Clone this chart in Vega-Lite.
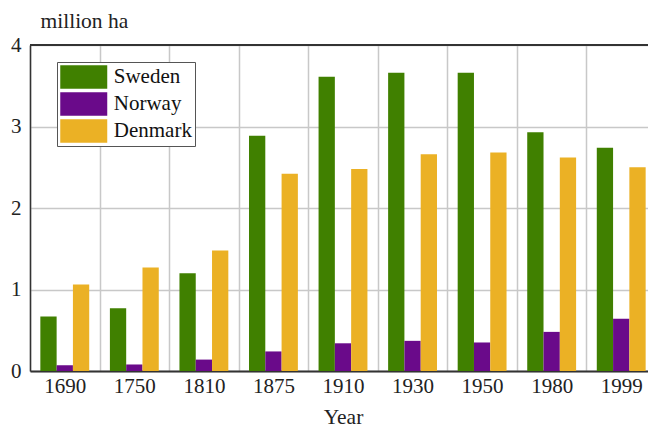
{
  "$schema": "https://vega.github.io/schema/vega-lite/v6.json",
  "width": 618,
  "height": 326,
  "autosize": {"type": "none"},
  "padding": {"left": 30, "top": 45, "right": 0, "bottom": 57},
  "background": "white",
  "config": {"font": "Liberation Serif", "view": {"stroke": null}},
  "data": {
    "values": [
      {"Year": "1690", "Country": "Sweden", "Value": 0.67},
      {"Year": "1690", "Country": "Norway", "Value": 0.07},
      {"Year": "1690", "Country": "Denmark", "Value": 1.06},
      {"Year": "1750", "Country": "Sweden", "Value": 0.77},
      {"Year": "1750", "Country": "Norway", "Value": 0.08},
      {"Year": "1750", "Country": "Denmark", "Value": 1.27},
      {"Year": "1810", "Country": "Sweden", "Value": 1.2},
      {"Year": "1810", "Country": "Norway", "Value": 0.14},
      {"Year": "1810", "Country": "Denmark", "Value": 1.48},
      {"Year": "1875", "Country": "Sweden", "Value": 2.885},
      {"Year": "1875", "Country": "Norway", "Value": 0.24},
      {"Year": "1875", "Country": "Denmark", "Value": 2.42},
      {"Year": "1910", "Country": "Sweden", "Value": 3.61},
      {"Year": "1910", "Country": "Norway", "Value": 0.34},
      {"Year": "1910", "Country": "Denmark", "Value": 2.48},
      {"Year": "1930", "Country": "Sweden", "Value": 3.66},
      {"Year": "1930", "Country": "Norway", "Value": 0.37},
      {"Year": "1930", "Country": "Denmark", "Value": 2.66},
      {"Year": "1950", "Country": "Sweden", "Value": 3.66},
      {"Year": "1950", "Country": "Norway", "Value": 0.35},
      {"Year": "1950", "Country": "Denmark", "Value": 2.68},
      {"Year": "1980", "Country": "Sweden", "Value": 2.93},
      {"Year": "1980", "Country": "Norway", "Value": 0.48},
      {"Year": "1980", "Country": "Denmark", "Value": 2.62},
      {"Year": "1999", "Country": "Sweden", "Value": 2.74},
      {"Year": "1999", "Country": "Norway", "Value": 0.64},
      {"Year": "1999", "Country": "Denmark", "Value": 2.5}
    ]
  },
  "layer": [
    {
      "mark": {"type": "bar"},
      "encoding": {
        "x": {
          "field": "Year",
          "type": "ordinal",
          "scale": {"range": [0, 626], "paddingInner": 0, "paddingOuter": 0},
          "axis": {
            "title": "Year",
            "labelAngle": 0,
            "grid": true,
            "tickBand": "extent",
            "gridColor": "#c8c8c8",
            "gridWidth": 1.5,
            "ticks": false,
            "domainColor": "#333",
            "domainWidth": 2,
            "labelFontSize": 21,
            "labelColor": "#222",
            "labelPadding": 4,
            "titleFontSize": 21.5,
            "titleFontWeight": "normal",
            "titleColor": "#222",
            "titleBaseline": "alphabetic",
            "titleX": 313,
            "titleY": 52
          }
        },
        "xOffset": {
          "field": "Country",
          "sort": ["Sweden", "Norway", "Denmark"],
          "scale": {"paddingInner": 0, "paddingOuter": 0.635}
        },
        "y": {
          "field": "Value",
          "type": "quantitative",
          "scale": {"domain": [0, 4]},
          "axis": {
            "values": [0, 1, 2, 3, 4],
            "format": "d",
            "title": "million ha",
            "titleAngle": 0,
            "titleAlign": "left",
            "titleBaseline": "alphabetic",
            "titleX": 10,
            "titleY": -18,
            "titleFontSize": 21.5,
            "titleFontWeight": "normal",
            "titleColor": "#222",
            "ticks": false,
            "domainColor": "#333",
            "domainWidth": 1.5,
            "gridColor": "#c8c8c8",
            "gridWidth": 1.5,
            "labelFontSize": 21,
            "labelColor": "#222",
            "labelPadding": 9
          }
        },
        "color": {
          "field": "Country",
          "type": "nominal",
          "sort": ["Sweden", "Norway", "Denmark"],
          "scale": {"domain": ["Sweden", "Norway", "Denmark"], "range": ["#408000", "#6a0a8a", "#ebb125"]},
          "legend": {
            "title": null,
            "orient": "none",
            "legendX": 27,
            "legendY": 17,
            "symbolType": "M-2,-1H2V1H-2Z",
            "symbolSize": 552,
            "symbolOffset": 11.75,
            "symbolStrokeWidth": 0,
            "symbolOpacity": 1,
            "labelFontSize": 21,
            "labelColor": "#111",
            "labelOffset": 18,
            "strokeColor": "#555",
            "fillColor": "white",
            "padding": 3,
            "rowPadding": 3
          }
        }
      }
    },
    {
      "mark": {"type": "rule", "color": "#333", "strokeWidth": 2},
      "encoding": {"y": {"datum": 4}}
    }
  ]
}
